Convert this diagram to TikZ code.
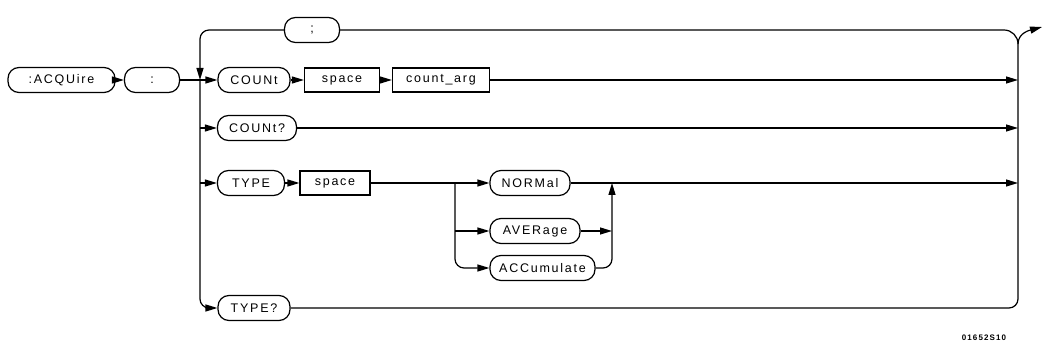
\documentclass[tikz,border=0pt]{standalone}
\usepackage{fontspec}
\setmainfont{Liberation Sans}[LetterSpace=14]
\usetikzlibrary{arrows.meta}
\begin{document}
\begin{tikzpicture}[x=1pt,y=-1pt,
  line width=1.2pt,
  every node/.style={font=\fontsize{12.5}{14}\selectfont, inner sep=0pt},
  term/.style={draw, rectangle, rounded corners=11pt, minimum height=25pt},
  param/.style={draw, rectangle, minimum height=24pt},
  arr/.style={-{Triangle[length=12pt,width=7pt]}},
  rc/.style={rounded corners=9pt}]
\useasboundingbox (0,0) rectangle (1055,352);
% nodes
\node[term, minimum width=107pt] (acq) at (61.5,80) {:ACQUire};
\node[term, minimum width=55pt] (colon) at (152,80) {:};
\node[term, minimum width=55pt] (semi) at (312,30) {;};
\node[term, minimum width=72pt] (count) at (254,80) {COUNt};
\node[param, minimum width=75pt] (sp1) at (342,80) {space};
\node[param, minimum width=97pt] (carg) at (441,80) {count\_arg};
\node[term, minimum width=79pt] (countq) at (257,128) {COUNt?};
\node[term, minimum width=67pt] (type) at (251,183) {TYPE};
\node[param, minimum width=70pt] (sp2) at (335,183) {space};
\node[term, minimum width=80pt] (norm) at (530,183) {NORMal};
\node[term, minimum width=90pt] (aver) at (535,231) {AVERage};
\node[term, minimum width=105pt] (accu) at (542.5,268) {ACCumulate};
\node[term, minimum width=72pt] (typeq) at (254,308) {TYPE?};
\node[font=\fontsize{8}{9}\selectfont\bfseries] (lbl) at (984,338) {01652S10};
% coordinates
\coordinate (jA) at (200,80);
\coordinate (jC) at (200,128);
\coordinate (jT) at (200,183);
\coordinate (bA) at (455,183);
\coordinate (bV) at (455,231);
\coordinate (mA) at (612,231);
\coordinate (mN) at (612,183);
\coordinate (rTop) at (1018,44);
\coordinate (r1) at (1018,80);
\coordinate (r2) at (1018,128);
\coordinate (r3) at (1018,183);
\coordinate (exit) at (1042,27);
% main line
\draw[arr] (acq) -- (colon);
\draw[arr] (colon) -- (count);
\draw[arr] (count) -- (sp1);
\draw[arr] (sp1) -- (carg);
\draw[arr] (carg) -- (r1);
% loop back
\draw (rTop) to[out=90,in=0] (1004,30) -- (semi.east);
\draw[arr, rc] (semi.west) -- (200,30) -- (jA);
\draw[arr] (rTop) to[out=90,in=195] (exit);
% left bus
\draw[arr, rc] (jA) -- (200,308) -- (typeq.west);
\draw[arr] (jC) -- (countq);
\draw[arr] (jT) -- (type);
\draw[arr] (countq) -- (r2);
% TYPE
\draw[arr] (type) -- (sp2);
\draw[arr] (sp2) -- (norm);
\draw[arr, rc] (bA) -- (455,268) -- (accu.west);
\draw[arr] (bV) -- (aver);
\draw[arr] (aver) -- (mA);
\draw[arr, rc] (accu.east) -- (612,268) -- (mN);
\draw[arr] (norm) -- (r3);
% right bus
\draw[rc] (typeq.east) -- (1018,308) -- (rTop);
\end{tikzpicture}
\end{document}
